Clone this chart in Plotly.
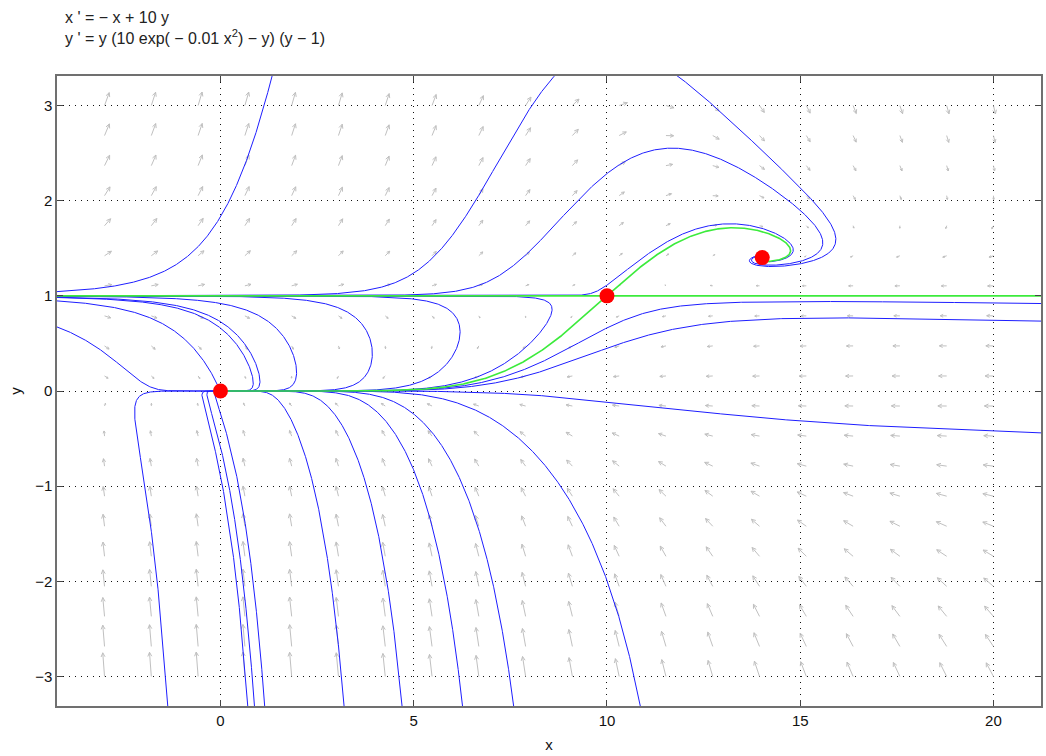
import math
import numpy as np
import plotly.graph_objects as go

# Axis windows and figure geometry
X_RANGE = [-4.23, 21.23]
Y_RANGE = [-3.31, 3.31]
FIG_W, FIG_H = 1046, 756
MARGIN = dict(l=57, r=3, t=76, b=50)
PLOT_W = FIG_W - MARGIN["l"] - MARGIN["r"]
PLOT_H = FIG_H - MARGIN["t"] - MARGIN["b"]
SX = PLOT_W / (X_RANGE[1] - X_RANGE[0])   # px per x unit
SY = PLOT_H / (Y_RANGE[1] - Y_RANGE[0])   # px per y unit

# Tick positions
x_ticks = [0, 5, 10, 15, 20]
y_ticks = [-3, -2, -1, 0, 1, 2, 3]

# Direction-field sampling grid
arrow_x = np.linspace(-3, 20, 20)
arrow_y = np.linspace(-3, 3, 20)

# Equilibrium points: origin (sink), saddle, spiral sink
eq_x = [0.0, 10.0, 14.017]
eq_y = [0.0, 1.0, 1.4017]
sink_idx = [0, 2]

# Starting points of the plotted solution curves (x0, y0)
seed_x = [0.0, 6.6, 10.0, 12.37, 11.86,
          -0.02, 0.7, 0.9, 1.97, 3.93, 6.2, 8.58, -4.2,
          -1.64, 0.41, 0.58, 0.84, 2.85, 4.30, 5.79, 7.03, 10.0,
          15.0, 15.0, 21.2]
seed_y = [1.83, 2.0, 2.285, 1.71, 3.30,
          0.018, 0.3, 0.3, 0.2, 0.39, 0.62, 0.858, 0.67,
          -1.99, -1.99, -1.99, -1.99, -1.99, -1.99, -1.99, -1.99, -1.99,
          0.94, 0.765, -0.44]


def rhs(x, y):
    g = 10.0 * math.exp(-0.01 * x * x)
    return -x + 10.0 * y, y * (g - y) * (y - 1.0)


def unit_dir(x, y, sgn):
    u, v = rhs(x, y)
    pu, pv = u * SX, v * SY
    n = math.hypot(pu, pv)
    if n == 0.0:
        return 0.0, 0.0
    return sgn * pu / n / SX, sgn * pv / n / SY


def trace(x0, y0, sgn, h=0.5, nmax=30000):
    xs, ys = [x0], [y0]
    x, y = x0, y0
    for _ in range(nmax):
        k1 = unit_dir(x, y, sgn)
        k2 = unit_dir(x + 0.5 * h * k1[0], y + 0.5 * h * k1[1], sgn)
        k3 = unit_dir(x + 0.5 * h * k2[0], y + 0.5 * h * k2[1], sgn)
        k4 = unit_dir(x + h * k3[0], y + h * k3[1], sgn)
        x += h * (k1[0] + 2 * k2[0] + 2 * k3[0] + k4[0]) / 6.0
        y += h * (k1[1] + 2 * k2[1] + 2 * k3[1] + k4[1]) / 6.0
        xs.append(x)
        ys.append(y)
        if (x < X_RANGE[0] - 0.1 or x > X_RANGE[1] + 0.1
                or y < Y_RANGE[0] - 0.05 or y > Y_RANGE[1] + 0.05):
            break
        if any(math.hypot((x - eq_x[i]) * SX, (y - eq_y[i]) * SY) < 1.5
               for i in sink_idx):
            break
    return xs, ys


def full_orbit(x0, y0):
    bx, by = trace(x0, y0, -1)
    fx, fy = trace(x0, y0, +1)
    return bx[::-1] + fx[1:], by[::-1] + fy[1:]


fig = go.Figure()

# Direction field arrows
ax_pts, ay_pts = [], []
for gx in arrow_x:
    for gy in arrow_y:
        u, v = rhs(gx, gy)
        mag = math.hypot(u, v)
        pu, pv = u * SX, v * SY
        n = math.hypot(pu, pv)
        if n == 0:
            continue
        ux, uy = pu / n, pv / n
        L = min(1.95 * math.sqrt(mag), 26.0)
        tx, ty = gx + ux * L / SX, gy + uy * L / SY
        ax_pts += [gx, tx, None]
        ay_pts += [gy, ty, None]
        hl = min(4.5, 0.5 * L)
        for ang in (math.radians(26), -math.radians(26)):
            ca, sa = math.cos(ang), math.sin(ang)
            bx = -(ux * ca - uy * sa)
            by = -(ux * sa + uy * ca)
            ax_pts += [tx, tx + bx * hl / SX, None]
            ay_pts += [ty, ty + by * hl / SY, None]

fig.add_trace(go.Scatter(x=ax_pts, y=ay_pts, mode="lines",
                         line=dict(color="#c0c0c0", width=1),
                         hoverinfo="skip", showlegend=False))

# Solution curves
for sx0, sy0 in zip(seed_x, seed_y):
    cx, cy = full_orbit(sx0, sy0)
    fig.add_trace(go.Scatter(x=cx, y=cy, mode="lines",
                             line=dict(color="rgb(30,30,255)", width=1),
                             hoverinfo="skip", showlegend=False))

# Separatrices of the saddle at (10, 1)
ev = (10.0, 3.679)
en = math.hypot(*ev)
eps = 0.004
sep = []
for s in (1, -1):
    sep.append(trace(10.0 + s * eps * ev[0] / en, 1.0 + s * eps * ev[1] / en, +1))
    sep.append(trace(10.0 + s * 0.01, 1.0, -1))
for px_, py_ in sep:
    fig.add_trace(go.Scatter(x=px_, y=py_, mode="lines",
                             line=dict(color="rgb(60,235,60)", width=1.6),
                             hoverinfo="skip", showlegend=False))

# Equilibria
fig.add_trace(go.Scatter(x=eq_x, y=eq_y, mode="markers",
                         marker=dict(color="red", size=15, line=dict(width=0)),
                         hoverinfo="skip", showlegend=False))

FONT = "Liberation Sans, Arial, sans-serif"
axis_common = dict(
    showgrid=True, gridcolor="#111", griddash="1px,5px", gridwidth=1,
    zeroline=False, showline=True, mirror="ticks", linecolor="#707070",
    linewidth=1.5, ticks="inside", ticklen=6, tickcolor="#444",
    tickfont=dict(family=FONT, size=15, color="#111"),
)

fig.update_layout(
    width=FIG_W, height=FIG_H, margin=MARGIN,
    paper_bgcolor="white", plot_bgcolor="white",
    xaxis=dict(range=X_RANGE, tickvals=x_ticks, title=dict(
        text="x", standoff=12, font=dict(family=FONT, size=15, color="#111")),
        **axis_common),
    yaxis=dict(range=Y_RANGE, tickvals=y_ticks, title=dict(
        text="y", standoff=10, font=dict(family=FONT, size=15, color="#111")),
        **axis_common),
    annotations=[dict(
        text="x ' = − x + 10 y<br>y ' = y (10 exp( − 0.01 x<sup>2</sup>) − y) (y − 1)",
        xref="paper", yref="paper", x=0.006, y=1.0, yshift=69,
        xanchor="left", yanchor="top", align="left", showarrow=False,
        font=dict(family=FONT, size=16, color="#222"))],
)

fig.write_html("out.html")
